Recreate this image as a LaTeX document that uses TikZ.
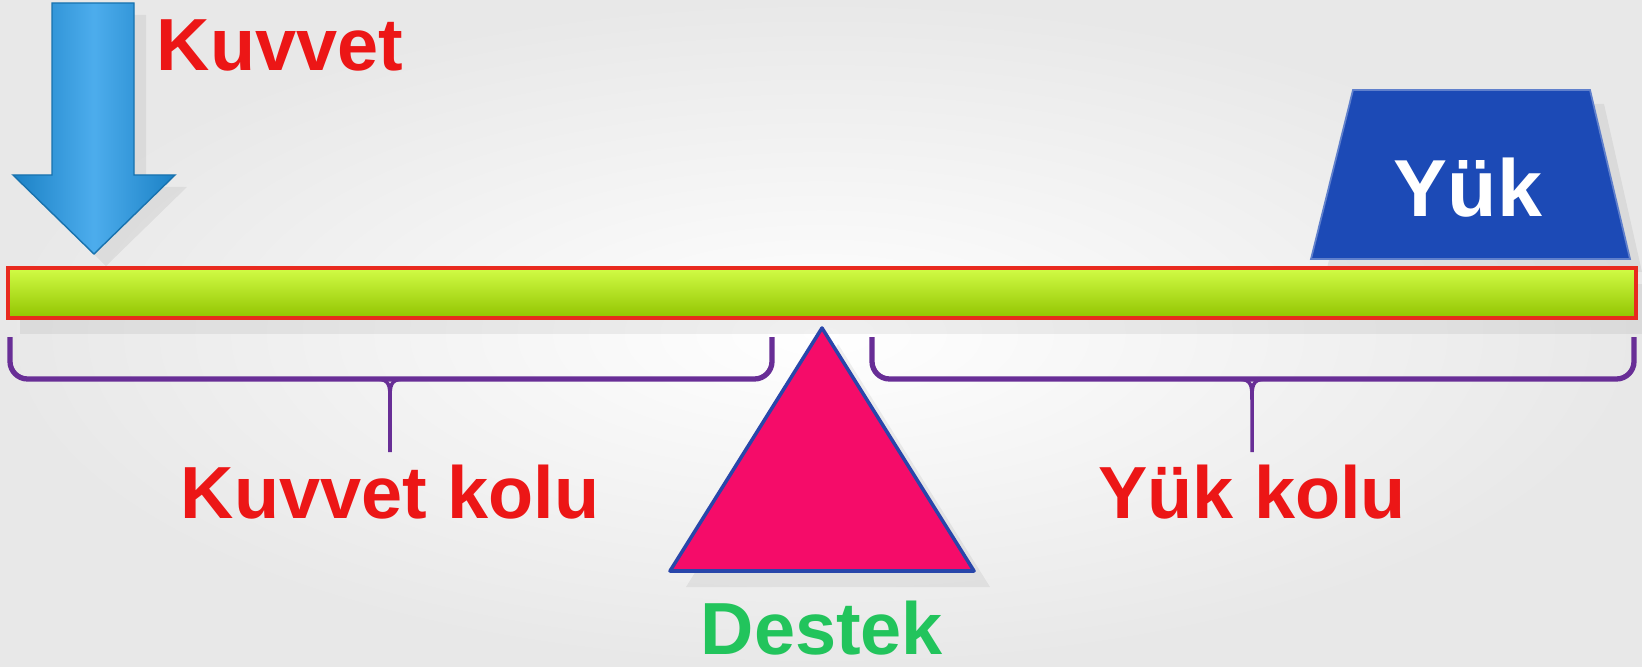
\documentclass[tikz,border=0pt]{standalone}
\usepackage{fontspec}
\setmainfont{Liberation Sans}
\usetikzlibrary{positioning,calc}
\definecolor{barred}{RGB}{232,42,30}
\definecolor{bargreen}{RGB}{145,196,0}
\definecolor{barlime}{RGB}{210,252,70}
\definecolor{arrowblue}{RGB}{32,152,232}
\definecolor{loadblue}{RGB}{28,74,182}
\definecolor{fulpink}{RGB}{245,12,105}
\definecolor{edgeblue}{RGB}{40,70,170}
\definecolor{braceviolet}{RGB}{104,46,150}
\definecolor{labelred}{RGB}{236,22,22}
\definecolor{labelgreen}{RGB}{34,196,92}
\begin{document}
\begin{tikzpicture}[x=0.01cm, y=-0.01cm, lbl/.style={font=\bfseries\fontsize{21}{21}\selectfont,text=labelred,inner sep=0pt,anchor=base}, brace/.style={draw=braceviolet,line width=1.5pt,rounded corners=5pt}, stem/.style={draw=braceviolet,line width=1pt}, shadow/.style={fill=black,opacity=.06}]
\useasboundingbox (0,0) rectangle (1642,667);
\shade[inner color=white,outer color=black!9] (0,0) rectangle (1642,667);
% shadows
\fill[shadow] (20,284) rectangle (1648,334);
\fill[shadow] (838,344) -- (990,587) -- (686,587) -- cycle;
\fill[shadow] (1368,104) -- (1604,104) -- (1642,272) -- (1326,272) -- cycle;
% force arrow
\fill[shadow] (64,15) -- (146,15) -- (146,187) -- (187,187) -- (106,266) -- (25,187) -- (64,187) -- cycle;
\draw[arrowblue!75!black,line width=.4pt,left color=arrowblue!85!black,right color=arrowblue!85!black,middle color=arrowblue!80!white]
  (52,3) -- (134,3) -- (134,175) -- (175,175) -- (94,254) -- (13,175) -- (52,175) -- cycle;
\node[lbl] (kuvvet) at (280,71) {Kuvvet};
% load
\draw[loadblue!70!white,line width=.5pt,fill=loadblue] (1353,90) -- (1590,90) -- (1630,259) -- (1311,259) -- cycle;
\node[lbl,text=white,font=\bfseries\fontsize{23}{23}\selectfont] (yuk) at (1468,217) {Yük};
% lever
\draw[draw=barred,line width=1.1pt,top color=barlime,middle color=bargreen!85!barlime,bottom color=bargreen] (8,268) rectangle (1636,318);
% fulcrum
\draw[edgeblue,line width=1pt,fill=fulpink,line join=round] (822,328) -- (974,571) -- (670,571) -- cycle;
\node[lbl,text=labelgreen] (destek) at (822,654) {Destek};
% arms
\draw[brace] (10,337) -- (10,379) -- (772,379) -- (772,337);
\draw[stem] (376,379) .. controls (390,379) and (390,386) .. (390,400) -- (390,452);
\draw[stem] (404,379) .. controls (390,379) and (390,386) .. (390,400);
\node[lbl] (kkolu) at (390,518) {Kuvvet kolu};
\draw[brace] (872,337) -- (872,379) -- (1634,379) -- (1634,337);
\draw[stem] (1238,379) .. controls (1252,379) and (1252,386) .. (1252,400) -- (1252,452);
\draw[stem] (1266,379) .. controls (1252,379) and (1252,386) .. (1252,400);
\node[lbl] (ykolu) at (1252,518) {Yük kolu};
\end{tikzpicture}
\end{document}
